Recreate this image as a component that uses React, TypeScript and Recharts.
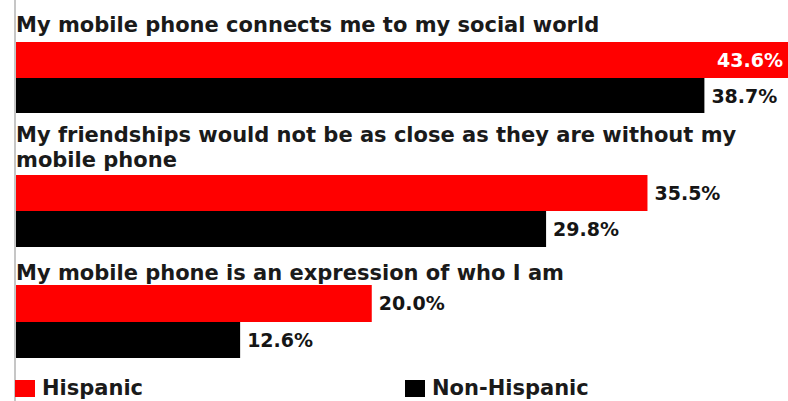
import React from 'react';
import { BarChart, Bar, XAxis, YAxis, LabelList } from 'recharts';

// ---- data ----
const categoryLines: string[][] = [
  ['My mobile phone connects me to my social world'],
  ['My friendships would not be as close as they are without my', 'mobile phone'],
  ['My mobile phone is an expression of who I am'],
];
const categories = categoryLines.map((l) => l.join(' '));
const hispanic = [43.6, 35.5, 20.0];
const nonHispanic = [38.7, 29.8, 12.6];
const seriesNames = ['Hispanic', 'Non-Hispanic'];
const seriesColors = ['#ff0000', '#000000'];

// ---- layout ----
const FONT = "'DejaVu Sans', Verdana, sans-serif";
const CHART_LEFT = 16;
const CHART_W = 772;
const chartTops = [42, 175, 285];
const chartHeights = [71, 72, 73];
const titleBaselines = [[32], [142, 167], [280]];
const LINE_X = 14;

const makeLabel = (chartW: number) => (props: any) => {
  const vb = props.viewBox || {};
  const x = Number(props.x ?? vb.x);
  const y = Number(props.y ?? vb.y);
  const width = Number(props.width ?? vb.width);
  const height = Number(props.height ?? vb.height);
  const value = Number(props.value);
  const text = value.toFixed(1) + '%';
  const end = x + width;
  const estW = 66;
  const inside = end + 7 + estW > chartW;
  const tx = inside ? Math.min(end, chartW) - 5 : end + 7;
  return (
    <text
      x={tx}
      y={y + height / 2}
      dy="0.36em"
      textAnchor={inside ? 'end' : 'start'}
      fill={inside ? '#ffffff' : '#151515'}
      fontFamily={FONT}
      fontWeight="bold"
      fontSize={19}
    >
      {text}
    </text>
  );
};

export default function App() {
  return (
    <div
      style={{
        position: 'absolute',
        left: 0,
        top: 0,
        width: 788,
        height: 401,
        background: '#ffffff',
        overflow: 'hidden',
      }}
    >
      <svg
        width={788}
        height={401}
        style={{ position: 'absolute', left: 0, top: 0 }}
      >
        <rect x={LINE_X} y={0} width={2} height={401} fill="#c6c6c6" />
        {categoryLines.map((lines, i) =>
          lines.map((line, j) => (
            <text
              key={`${i}-${j}`}
              x={CHART_LEFT}
              y={titleBaselines[i][j]}
              fontFamily={FONT}
              fontWeight="bold"
              fontSize={21}
              fill="#1a1a1a"
            >
              {line}
            </text>
          ))
        )}
        {/* legend */}
        {seriesNames.map((name, i) => (
          <g key={name}>
            <rect x={i === 0 ? 15 : 405} y={380} width={20} height={17} fill={seriesColors[i]} />
            <text
              x={i === 0 ? 42 : 432}
              y={395}
              fontFamily={FONT}
              fontWeight="bold"
              fontSize={21}
              fill="#1a1a1a"
            >
              {name}
            </text>
          </g>
        ))}
      </svg>
      {categories.map((cat, i) => {
        const data = [{ name: cat, hispanic: hispanic[i], nonHispanic: nonHispanic[i] }];
        return (
          <div
            key={cat}
            style={{ position: 'absolute', left: CHART_LEFT, top: chartTops[i] }}
          >
            <BarChart
              width={CHART_W}
              height={chartHeights[i]}
              data={data}
              layout="vertical"
              margin={{ top: 0, right: 0, bottom: 0, left: 0 }}
              barCategoryGap={0}
              barGap={0}
            >
              <XAxis type="number" domain={[0, 43.4]} allowDataOverflow hide />
              <YAxis type="category" dataKey="name" hide />
              <Bar dataKey="hispanic" name={seriesNames[0]} fill={seriesColors[0]} isAnimationActive={false}>
                <LabelList dataKey="hispanic" content={makeLabel(CHART_W)} />
              </Bar>
              <Bar dataKey="nonHispanic" name={seriesNames[1]} fill={seriesColors[1]} isAnimationActive={false}>
                <LabelList dataKey="nonHispanic" content={makeLabel(CHART_W)} />
              </Bar>
            </BarChart>
          </div>
        );
      })}
    </div>
  );
}
